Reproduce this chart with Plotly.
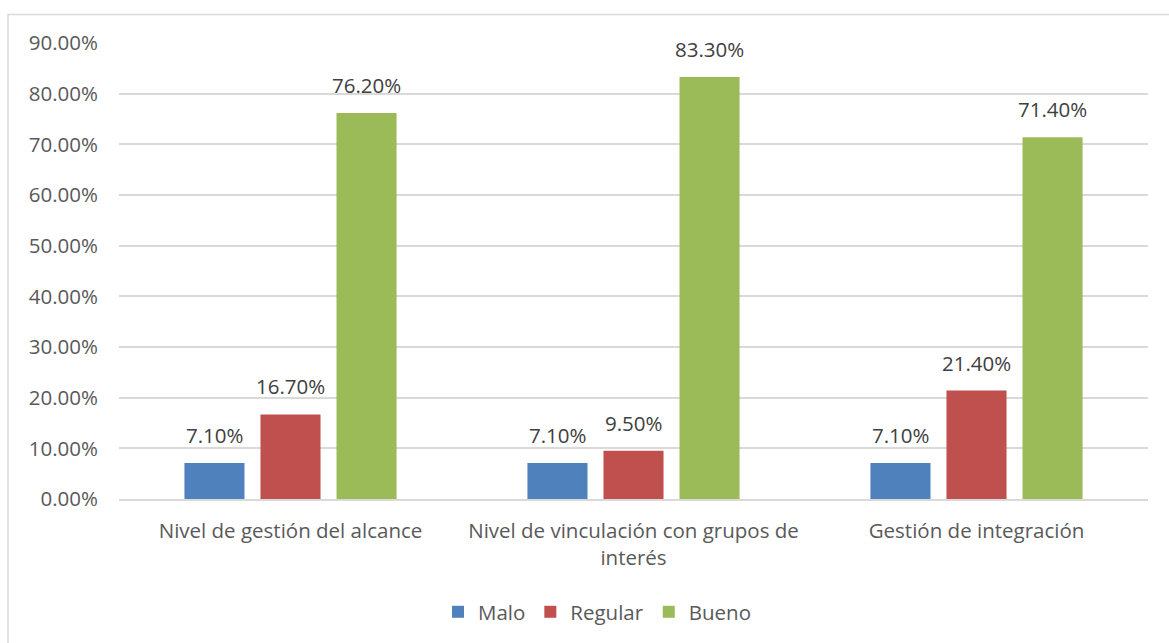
import plotly.graph_objects as go

categories = ["Nivel de gestión del alcance",
              "Nivel de vinculación con grupos de<br>interés",
              "Gestión de integración"]
series_names = ["Malo", "Regular", "Bueno"]
malo = [0.071, 0.071, 0.071]
regular = [0.167, 0.095, 0.214]
bueno = [0.762, 0.833, 0.714]
colors = ["#4F81BD", "#C0504D", "#9BBB59"]
tick_vals = [0.0, 0.1, 0.2, 0.3, 0.4, 0.5, 0.6, 0.7, 0.8, 0.9]
tick_text = ["0.00%", "10.00%", "20.00%", "30.00%", "40.00%", "50.00%",
             "60.00%", "70.00%", "80.00%", "90.00%"]

FONT = "Open Sans"
FS = 20.5
fig = go.Figure()
offsets = [-76, 0, 76]
for name, vals, col, off in zip(series_names, [malo, regular, bueno], colors, offsets):
    fig.add_trace(go.Bar(
        name=name, x=categories, y=vals, marker=dict(color=col, line=dict(width=0)),
    ))
    for c, v in zip(categories, vals):
        fig.add_annotation(x=c, y=v, xref="x", yref="y", text=f"{v*100:.2f}%",
                           showarrow=False, xshift=off, yshift=12, yanchor="bottom",
                           font=dict(family=FONT, size=FS, color="#404040"))

fig.update_layout(
    width=1169, height=643,
    paper_bgcolor="white", plot_bgcolor="white",
    margin=dict(l=119, r=21, t=43, b=143),
    barmode="group", bargap=0.335, bargroupgap=0.21,
    font=dict(family=FONT, size=FS, color="#595959"),
    legend=dict(orientation="h", x=0.465, xanchor="center", y=-0.245, yanchor="middle",
                font=dict(family=FONT, size=FS, color="#595959"),
                itemwidth=30, traceorder="normal"),
    showlegend=True,
)
fig.update_yaxes(range=[0, 0.9], tickvals=tick_vals, ticktext=tick_text,
                 showgrid=True, gridcolor="#D9D9D9", gridwidth=1.5,
                 zeroline=False, showline=False, ticklabelstandoff=20,
                 tickfont=dict(family=FONT, size=FS, color="#595959"))
fig.update_xaxes(showline=True, linecolor="#D9D9D9", linewidth=1.5,
                 ticks="", ticklabelstandoff=13,
                 tickfont=dict(family=FONT, size=FS, color="#595959"))

fig.add_shape(type="rect", xref="paper", yref="paper",
              x0=(8 - 119) / 1029, x1=(1180 - 119) / 1029,
              y0=-(660 - 500) / 457, y1=1 + (43 - 14.5) / 457,
              line=dict(color="#D9D9D9", width=1.5), fillcolor="rgba(0,0,0,0)", layer="below")

fig.write_html("out.html")
